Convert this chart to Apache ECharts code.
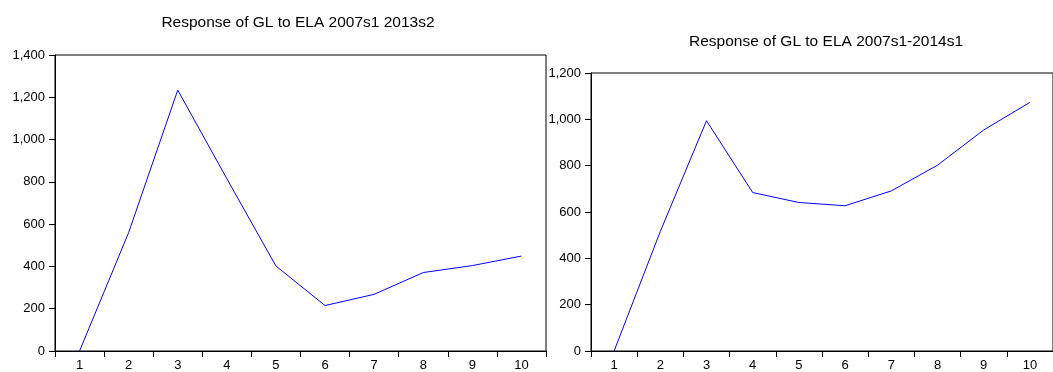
<!DOCTYPE html>
<html>
<head>
<meta charset="utf-8">
<script src="https://cdn.jsdelivr.net/npm/echarts@6/dist/echarts.min.js"></script>
<style>
  html, body { margin: 0; padding: 0; background: #fff; }
  #chart { width: 1053px; height: 372px; }
</style>
</head>
<body>
<div id="chart"></div>
<script>
// impulse response periods
const periods = ['1', '2', '3', '4', '5', '6', '7', '8', '9', '10']

// response of GL to ELA, sample 2007s1 2013s2
const respA = [0, 560, 1234, 815, 402, 215, 268, 371, 404, 449]
// response of GL to ELA, sample 2007s1-2014s1
const respB = [0, 516, 994, 684, 641, 627, 691, 802, 954, 1073]

const titleA = 'Response of GL to ELA 2007s1 2013s2'
const titleB = 'Response of GL to ELA 2007s1-2014s1'

const FONT = '"Liberation Sans", Arial, sans-serif'
const LINE = '#000'

const fmt = v => v.toLocaleString('en-US')

const xAxisBase = (gridIndex) => ({
  type: 'category',
  gridIndex,
  data: periods,
  boundaryGap: true,
  axisLine: { lineStyle: { color: LINE, width: 1 } },
  axisTick: { show: true, length: 6, lineStyle: { color: LINE } },
  axisLabel: { color: '#000', fontFamily: FONT, fontSize: 13, margin: 8 },
  splitLine: { show: false }
})

const yAxisBase = (gridIndex, max) => ({
  type: 'value',
  gridIndex,
  min: 0,
  max,
  interval: 200,
  axisLine: { show: true, lineStyle: { color: LINE, width: 1 } },
  axisTick: { show: true, length: 6, lineStyle: { color: LINE } },
  axisLabel: { color: '#000', fontFamily: FONT, fontSize: 13, margin: 10, formatter: fmt },
  splitLine: { show: false }
})

const chart = echarts.init(document.getElementById('chart'))

chart.setOption({
  animation: false,
  backgroundColor: '#fff',
  title: [
    {
      text: titleA,
      left: 298,
      top: 15,
      textAlign: 'center',
      padding: 0,
      textStyle: { fontFamily: FONT, fontSize: 15.5, fontWeight: 'normal', color: '#000' }
    },
    {
      text: titleB,
      left: 826,
      top: 34,
      textAlign: 'center',
      padding: 0,
      textStyle: { fontFamily: FONT, fontSize: 15.5, fontWeight: 'normal', color: '#000' }
    }
  ],
  grid: [
    { left: 55, top: 55, width: 491, height: 297, show: true, borderColor: LINE, borderWidth: 1, backgroundColor: 'transparent' },
    { left: 591, top: 73, width: 471, height: 280, show: true, borderColor: LINE, borderWidth: 1, backgroundColor: 'transparent' }
  ],
  xAxis: [xAxisBase(0), xAxisBase(1)],
  yAxis: [yAxisBase(0, 1400), yAxisBase(1, 1200)],
  series: [
    {
      type: 'line',
      xAxisIndex: 0,
      yAxisIndex: 0,
      data: respA,
      showSymbol: false,
      lineStyle: { color: '#0000ff', width: 1 },
      itemStyle: { color: '#0000ff' }
    },
    {
      type: 'line',
      xAxisIndex: 1,
      yAxisIndex: 1,
      data: respB,
      showSymbol: false,
      lineStyle: { color: '#0000ff', width: 1 },
      itemStyle: { color: '#0000ff' }
    }
  ]
})
</script>
</body>
</html>
